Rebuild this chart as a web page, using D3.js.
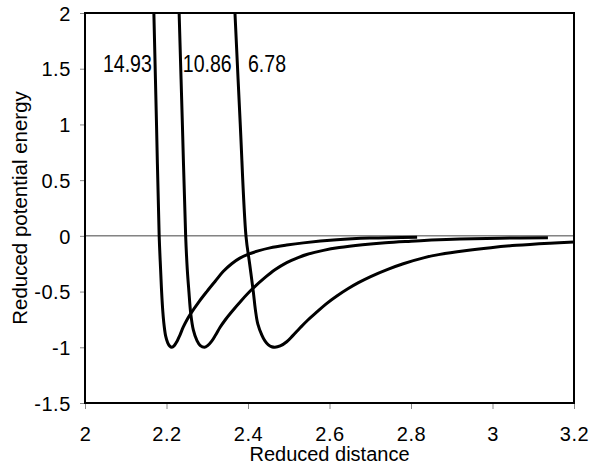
<!DOCTYPE html>
<html>
<head>
<meta charset="utf-8">
<script src="https://cdn.jsdelivr.net/npm/d3@7"></script>
<style>
    body { margin: 0; background: #fff; }
    text { font-family: "Liberation Sans", Arial, sans-serif; fill: #000; }
</style>
</head>
<body>
<svg id="chart"></svg>
<script>
// curve labels (reduced range parameter)
const labels = ['14.93', '10.86', '6.78']

// points, [reduced distance, reduced energy]
const curveA = [
    [2.169, 2.0], [2.1755, 1.0], [2.182, 0.0], [2.1855, -0.3], [2.188, -0.5],
    [2.191, -0.68], [2.194, -0.8], [2.198, -0.9], [2.203, -0.96], [2.208, -0.99],
    [2.213, -1.0], [2.219, -0.985], [2.226, -0.945], [2.233, -0.89], [2.241, -0.82],
    [2.25, -0.755], [2.259, -0.70], [2.280, -0.59], [2.299, -0.50], [2.320, -0.405],
    [2.339, -0.32], [2.360, -0.25], [2.380, -0.20], [2.397, -0.17], [2.425, -0.135],
    [2.454, -0.108], [2.495, -0.083], [2.536, -0.063], [2.618, -0.035], [2.699, -0.02],
    [2.815, -0.012]
]
const curveB = [
    [2.231, 2.0], [2.239, 1.0], [2.247, 0.0], [2.251, -0.3], [2.255, -0.5],
    [2.2594, -0.694], [2.2658, -0.844], [2.2748, -0.94], [2.283, -0.985], [2.293, -1.0],
    [2.301, -0.985], [2.311, -0.945], [2.3205, -0.89], [2.3315, -0.82], [2.344, -0.755],
    [2.358, -0.69], [2.385, -0.575], [2.411, -0.475], [2.44, -0.38], [2.466, -0.305],
    [2.495, -0.24], [2.523, -0.195], [2.546, -0.165], [2.585, -0.13], [2.624, -0.105],
    [2.681, -0.08], [2.737, -0.062], [2.80, -0.048], [2.85, -0.038], [2.92, -0.028],
    [3.018, -0.021], [3.136, -0.016]
]
const curveC = [
    [2.368, 2.0], [2.381, 1.0], [2.395, 0.0], [2.404, -0.25], [2.413, -0.5],
    [2.418, -0.66], [2.424, -0.79], [2.434, -0.89], [2.442, -0.945], [2.450, -0.978],
    [2.458, -0.995], [2.466, -1.0], [2.479, -0.988], [2.495, -0.95], [2.51, -0.895],
    [2.528, -0.825], [2.547, -0.755], [2.567, -0.69], [2.592, -0.61], [2.618, -0.54],
    [2.645, -0.475], [2.671, -0.42], [2.701, -0.365], [2.743, -0.30], [2.781, -0.25],
    [2.833, -0.195], [2.871, -0.166], [2.932, -0.133], [2.996, -0.106], [3.059, -0.085],
    [3.141, -0.066], [3.2, -0.055]
]

const xTicks = [2, 2.2, 2.4, 2.6, 2.8, 3, 3.2]
const yTicks = [-1.5, -1, -0.5, 0, 0.5, 1, 1.5, 2]

const width = 590, height = 472
const margin = { top: 13, right: 16, bottom: 69, left: 85 }
const innerW = width - margin.left - margin.right
const innerH = height - margin.top - margin.bottom

const svg = d3.select('#chart')
    .attr('width', width)
    .attr('height', height)

const chart = svg.append('g')
    .attr('transform', `translate(${margin.left}, ${margin.top})`)

const xScale = d3.scaleLinear().domain([2, 3.2]).range([0, innerW])
const yScale = d3.scaleLinear().domain([-1.5, 2]).range([innerH, 0])

chart.append('clipPath').attr('id', 'clip')
    .append('rect').attr('width', innerW).attr('height', innerH)

// zero line
chart.append('line')
    .attr('x1', 0).attr('x2', innerW)
    .attr('y1', yScale(0)).attr('y2', yScale(0))
    .attr('stroke', '#444').attr('stroke-width', 1)

const line = d3.line()
    .x(d => xScale(d[0]))
    .y(d => yScale(d[1]))
    .curve(d3.curveCatmullRom.alpha(0.5))

chart.append('g').attr('clip-path', 'url(#clip)')
    .selectAll('.curve')
    .data([curveA, curveB, curveC])
    .join('path')
        .attr('class', 'curve')
        .attr('d', line)
        .attr('fill', 'none')
        .attr('stroke', '#000')
        .attr('stroke-width', 3)
        .attr('stroke-linejoin', 'round')

// axes, plain hyphen for negatives like the original
const fmt = d => String(d)
const xAxis = d3.axisBottom(xScale).tickValues(xTicks).tickSize(6).tickPadding(18).tickFormat(fmt)
const yAxis = d3.axisLeft(yScale).tickValues(yTicks).tickSize(5).tickPadding(9).tickFormat(fmt)

const xAxisGroup = chart.append('g')
    .attr('transform', `translate(0, ${innerH})`)
    .call(xAxis)
const yAxisGroup = chart.append('g').call(yAxis)

for (const g of [xAxisGroup, yAxisGroup]) {
    g.select('.domain').remove()
    g.selectAll('.tick line').attr('stroke', '#888')
    g.selectAll('.tick text')
        .attr('font-size', 20)
        .attr('letter-spacing', 0.6)
        .attr('font-family', '"Liberation Sans", Arial, sans-serif')
        .attr('fill', '#000')
}
xAxisGroup.selectAll('.tick text').attr('dy', '0.71em')
yAxisGroup.selectAll('.tick text').attr('dy', '0.36em')

// frame
chart.append('rect')
    .attr('width', innerW).attr('height', innerH)
    .attr('fill', 'none')
    .attr('stroke', '#000')
    .attr('stroke-width', 2)

// curve labels, set in a narrow face
const labelPos = [
    { x: 2.164, y: 1.47, anchor: 'end' },
    { x: 2.24, y: 1.47, anchor: 'start' },
    { x: 2.4, y: 1.47, anchor: 'start' }
]
chart.selectAll('.clabel')
    .data(labels)
    .join('text')
        .attr('class', 'clabel')
        .attr('transform', (d, i) => `translate(${xScale(labelPos[i].x)}, ${yScale(labelPos[i].y)}) scale(0.85, 1)`)
        .attr('text-anchor', (d, i) => labelPos[i].anchor)
        .attr('font-size', 23)
        .text(d => d)

// axis titles
svg.append('text')
    .attr('x', margin.left + innerW / 2)
    .attr('y', 461)
    .attr('text-anchor', 'middle')
    .attr('font-size', 20)
    .text('Reduced distance')

svg.append('text')
    .attr('transform', `translate(27, ${margin.top + innerH / 2}) rotate(-90)`)
    .attr('text-anchor', 'middle')
    .attr('font-size', 20.5)
    .text('Reduced potential energy')
</script>
</body>
</html>
